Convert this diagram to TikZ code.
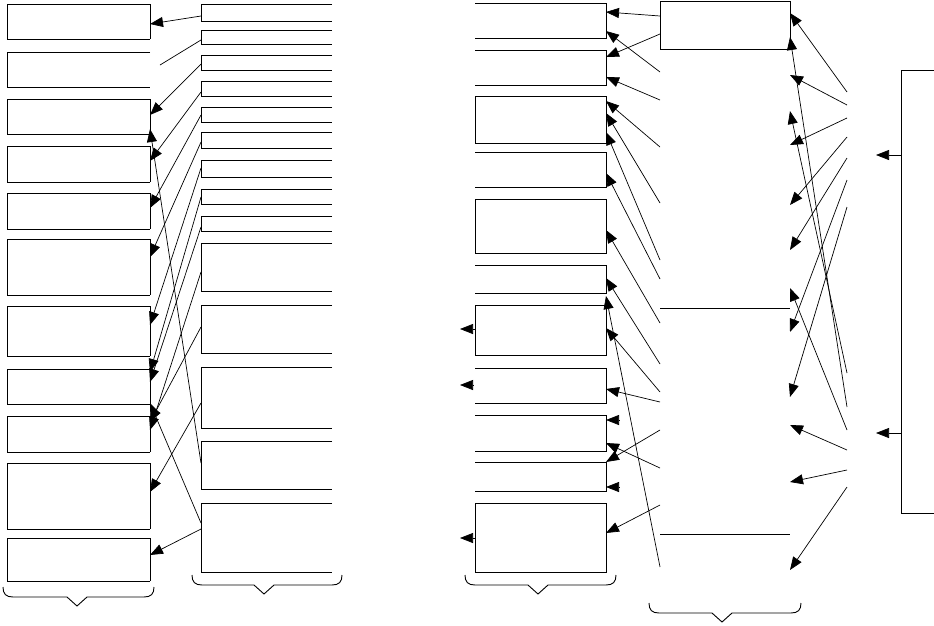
\documentclass[tikz,border=0pt]{standalone}
\usepackage{tikz}
\usetikzlibrary{arrows.meta}

\begin{document}
\begin{tikzpicture}[x=1pt, y=-1pt,
    slot/.style={draw=none, inner sep=0pt, outer sep=0pt, anchor=north west},
    rim/.style={line width=1pt},
    wire/.style={line width=0.7pt},
    link/.style={wire, -{Triangle[length=13pt, width=10pt]}},
    brace/.style={line width=0.9pt}]
\useasboundingbox (0,0) rectangle (934,625);

% left column
\foreach \n/\ya/\yb in {1/4/39, 2/52/87, 3/99/134, 4/146/182, 5/193/229, 6/239/295,
                         7/306/356, 8/369/404, 9/416/452, 10/463/529, 11/538/581}{
  \node[slot, minimum width=143pt, minimum height={(\yb-\ya)*1pt}] (a\n) at (7,\ya) {};
  \draw[rim] (a\n.north east) -- (a\n.north west) -- (a\n.south west) -- (a\n.south east);
}
\foreach \n in {1,3,4,5,6,7,8,9,10,11}
  \draw[rim] (a\n.north east) -- (a\n.south east);

% second column
\foreach \n/\ya/\yb in {1/4/21, 2/30/44, 3/55/70, 4/81/96, 5/107/122, 6/132/148, 7/160/177,
                         8/189/204, 9/216/231, 10/243/291, 11/305/353, 12/367/428, 13/441/489, 14/503/572}{
  \node[slot, minimum width=131pt, minimum height={(\yb-\ya)*1pt}] (b\n) at (201,\ya) {};
  \draw[rim] (b\n.north east) -- (b\n.north west) -- (b\n.south west) -- (b\n.south east);
}

% third column
\foreach \n/\ya/\yb in {1/3/38, 2/50/85, 3/96/143, 4/152/187, 5/199/253, 6/265/293,
                         7/305/355, 8/368/403, 9/415/451, 10/462/491, 11/503/572}{
  \node[slot, minimum width=131pt, minimum height={(\yb-\ya)*1pt}] (c\n) at (475,\ya) {};
  \draw[rim] (c\n.north west) -- (c\n.north east) -- (c\n.south east) -- (c\n.south west);
}
\foreach \n in {3,5,7,11}
  \draw[rim] (c\n.north west) -- (c\n.south west);

% fourth column
\node[slot, draw, rim, minimum width=130pt, minimum height=48pt] (d1) at (660,1) {};
\node[slot, minimum width=130pt, minimum height=259pt] (d2) at (660,49) {};
\node[slot, minimum width=130pt, minimum height=226pt] (d3) at (660,308) {};
\node[slot, minimum width=130pt, minimum height=46pt] (d4) at (660,534) {};
\draw[rim] (d3.north west) -- (d3.north east);
\draw[rim] (d4.north west) -- (d4.north east);

% right bracket
\node[slot, minimum width=29pt, minimum height=140pt] (f1) at (847,85) {};
\node[slot, minimum width=29pt, minimum height=136pt] (f2) at (847,365) {};
\node[slot, minimum width=33pt, minimum height=443pt] (e) at (901,70) {};
\draw[rim] (e.north east) -- (e.north west) -- (e.south west) -- (e.south east);
\draw[link] (e.west |- f1.east) -- (f1.east);
\draw[link] (e.west |- f2.east) -- (f2.east);

% second column to left column
\coordinate (stub) at (160,65);
\draw[link] (b1.west |- 0,16) -- (a1.east |- 0,24);
\draw[wire] (b2.west |- 0,40) -- (stub);
\draw[link] (b3.west |- 0,64) -- (a3.east |- 0,115);
\draw[link] (b4.west |- 0,92) -- (a4.east |- 0,161);
\draw[link] (b5.west |- 0,115) -- (a5.east |- 0,208);
\draw[link] (b6.west |- 0,142) -- (a6.east |- 0,257);
\draw[link] (b7.west |- 0,168) -- (a7.east |- 0,325);
\draw[link] (b8.west |- 0,197) -- (a8.east |- 0,372);
\draw[link] (b9.west |- 0,227) -- (a8.east |- 0,382);
\draw[link] (b10.west |- 0,272) -- (a9.east |- 0,430);
\draw[link] (b11.west |- 0,327) -- (a9.east |- 0,422);
\draw[link] (b12.west |- 0,403) -- (a10.east |- 0,492);
\draw[link] (b13.west |- 0,463) -- (a3.east |- 0,129);
\draw[link] (b14.west |- 0,523) -- (a8.east |- 0,403);
\draw[link] (b14.west |- 0,529) -- (a11.east |- 0,555);

% third column, left side
\coordinate (out7) at (460,329);
\coordinate (out11) at (460,538);
\draw[link] (c7.west |- out7) -- (out7);
\draw[link] (c11.west |- out11) -- (out11);
\draw[link] (c8.west |- 0,385) ++(-2,0) -- ++(-13,0);
\draw[link] (c9.east |- 0,420) ++(13,0) -- ++(-13,0);
\draw[link] (c10.east |- 0,487) ++(13,0) -- ++(-13,0);

% fourth column to third column
\draw[link] (d1.west |- 0,16) -- (c1.east |- 0,12);
\draw[link] (d1.west |- 0,34) -- (c2.east |- 0,57);
\draw[link] (d2.west |- 0,72) -- (c1.east |- 0,31);
\draw[link] (d2.west |- 0,100) -- (c2.east |- 0,77);
\draw[link] (d2.west |- 0,147) -- (c3.east |- 0,101);
\draw[link] (d2.west |- 0,203) -- (c3.east |- 0,113);
\draw[link] (d2.west |- 0,260) -- (c3.east |- 0,132);
\draw[link] (d2.west |- 0,279) -- (c4.east |- 0,173);
\draw[link] (d3.west |- 0,323) -- (c5.east |- 0,230);
\draw[link] (d3.west |- 0,364) -- (c6.east |- 0,278);
\draw[link] (d3.west |- 0,392) -- (c7.east |- 0,328);
\draw[link] (d3.west |- 0,402) -- (c8.east |- 0,389);
\draw[link] (d3.west |- 0,430) -- (c10.east |- 0,462);
\draw[link] (d3.west |- 0,468) -- (c9.east |- 0,443);
\draw[link] (d3.west |- 0,505) -- (c11.east |- 0,533);
\draw[link] (d4.west |- 0,567) -- (c7.east |- 0,296);

% bracket side to fourth column
\draw[link] (f1.west |- 0,92) -- (d1.east |- 0,13);
\draw[link] (f1.west |- 0,105) -- (d2.east |- 0,75);
\draw[link] (f1.west |- 0,118) -- (d2.east |- 0,145);
\draw[link] (f1.west |- 0,137) -- (d2.east |- 0,205);
\draw[link] (f1.west |- 0,158) -- (d2.east |- 0,250);
\draw[link] (f1.west |- 0,180) -- (d3.east |- 0,332);
\draw[link] (f1.west |- 0,207) -- (d3.east |- 0,397);
\draw[link] (f2.west |- 0,373) -- (d2.east |- 0,111);
\draw[link] (f2.west |- 0,407) -- (d1.east |- 0,37);
\draw[link] (f2.west |- 0,430) -- (d2.east |- 0,288);
\draw[link] (f2.west |- 0,450) -- (d3.east |- 0,425);
\draw[link] (f2.west |- 0,470) -- (d3.east |- 0,482);
\draw[link] (f2.west |- 0,487) -- (d4.east |- 0,570);

% braces under the columns
\foreach \l/\r/\ya/\m in {3/154/587/77, 192/342/575/264, 465/616/575/538, 649/801/603/722}
  \draw[brace] (\l,\ya) .. controls (\l,\ya+7) and (\l+3,\ya+10) .. (\l+10,\ya+10)
    -- (\m-10,\ya+10) -- (\m,\ya+19) -- (\m+10,\ya+10) -- (\r-10,\ya+10)
    .. controls (\r-3,\ya+10) and (\r,\ya+7) .. (\r,\ya);
\end{tikzpicture}
\end{document}
